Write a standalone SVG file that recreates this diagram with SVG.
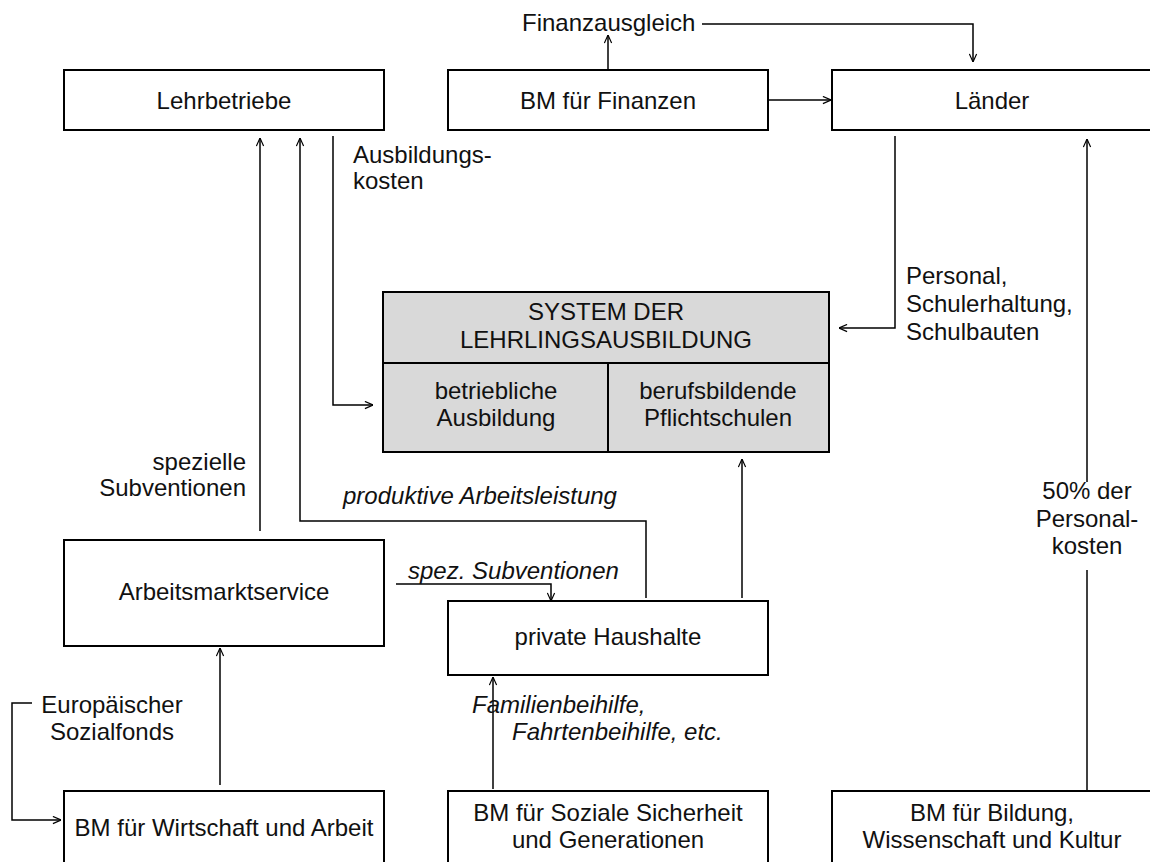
<svg xmlns="http://www.w3.org/2000/svg" width="1150" height="862" viewBox="0 0 1150 862">
<style>
text{font-family:"Liberation Sans",Arial,sans-serif;font-size:24px;fill:#111}
.c{text-anchor:middle}
.e{text-anchor:end}
.i{font-style:italic}
.box{fill:#fff;stroke:#000;stroke-width:2}
.sys{fill:#d9d9d9;stroke:#000;stroke-width:2}
.ln{fill:none;stroke:#000;stroke-width:1.5}
.ar{fill:none;stroke:#000;stroke-width:1.5;marker-end:url(#ah)}
</style>
<defs>
<marker id="ah" viewBox="0 0 10 10" refX="10" refY="5" markerWidth="9" markerHeight="9" markerUnits="userSpaceOnUse" orient="auto">
<path d="M1,1 L10,5 L1,9" fill="none" stroke="#000" stroke-width="1.3"/>
</marker>
</defs>
<rect width="1150" height="862" fill="#fff"/>
<g id="connectors">
<path class="ar" d="M608,70 V35"/>
<path class="ar" d="M702,24 H973 V62"/>
<path class="ar" d="M768,100 H831"/>
<path class="ar" d="M895,136 V328 H839"/>
<path class="ln" d="M1087,790 V570"/>
<path class="ar" d="M1087,482 V139"/>
<path class="ar" d="M260,531 V138"/>
<path class="ar" d="M646,598 V521 H300 V138"/>
<path class="ar" d="M333,136 V405 H373"/>
<path class="ar" d="M396,584 H551 V601"/>
<path class="ar" d="M742,598 V459"/>
<path class="ar" d="M493,789 V677"/>
<path class="ar" d="M220,785 V648"/>
<path class="ar" d="M32,703 H12 V820 H61"/>
</g>
<g id="lehrbetriebe"><rect class="box" x="64" y="70" width="320" height="60"/><text class="c" x="224" y="109">Lehrbetriebe</text></g>
<g id="bmf"><rect class="box" x="448" y="70" width="320" height="60"/><text class="c" x="608" y="109">BM für Finanzen</text></g>
<g id="laender"><rect class="box" x="832" y="70" width="330" height="60"/><text class="c" x="992" y="109">Länder</text></g>
<g id="system">
<rect class="sys" x="383" y="292" width="446" height="160"/>
<line class="ln" x1="383" y1="363" x2="829" y2="363" style="stroke-width:2"/>
<line class="ln" x1="608" y1="363" x2="608" y2="452" style="stroke-width:2"/>
<text class="c" x="606" y="320">SYSTEM DER</text>
<text class="c" x="606" y="348">LEHRLINGSAUSBILDUNG</text>
<text class="c" x="496" y="399">betriebliche</text>
<text class="c" x="496" y="426">Ausbildung</text>
<text class="c" x="718" y="399">berufsbildende</text>
<text class="c" x="718" y="426">Pflichtschulen</text>
</g>
<g id="ams"><rect class="box" x="64" y="540" width="320" height="106"/><text class="c" x="224" y="600">Arbeitsmarktservice</text></g>
<g id="haushalte"><rect class="box" x="448" y="601" width="320" height="74"/><text class="c" x="608" y="645">private Haushalte</text></g>
<g id="bmwa"><rect class="box" x="64" y="791" width="320" height="90"/><text class="c" x="224" y="836">BM für Wirtschaft und Arbeit</text></g>
<g id="bmssg"><rect class="box" x="448" y="791" width="320" height="90"/><text class="c" x="608" y="821">BM für Soziale Sicherheit</text><text class="c" x="608" y="848">und Generationen</text></g>
<g id="bmbwk"><rect class="box" x="832" y="791" width="330" height="90"/><text class="c" x="992" y="821">BM für Bildung,</text><text class="c" x="992" y="848">Wissenschaft und Kultur</text></g>
<g id="labels">
<text x="522" y="31">Finanzausgleich</text>
<text x="353" y="163">Ausbildungs-</text>
<text x="353" y="189">kosten</text>
<text x="906" y="284">Personal,</text>
<text x="906" y="312">Schulerhaltung,</text>
<text x="906" y="340">Schulbauten</text>
<text class="e" x="246" y="470">spezielle</text>
<text class="e" x="246" y="496">Subventionen</text>
<text class="i" x="343" y="504">produktive Arbeitsleistung</text>
<text class="i" x="408" y="579">spez. Subventionen</text>
<text class="c" x="112" y="713">Europäischer</text>
<text class="c" x="112" y="740">Sozialfonds</text>
<text class="i" x="472" y="713">Familienbeihilfe,</text>
<text class="i" x="512" y="740">Fahrtenbeihilfe, etc.</text>
<text class="c" x="1087" y="499">50% der</text>
<text class="c" x="1087" y="527">Personal-</text>
<text class="c" x="1087" y="554">kosten</text>
</g>
</svg>
